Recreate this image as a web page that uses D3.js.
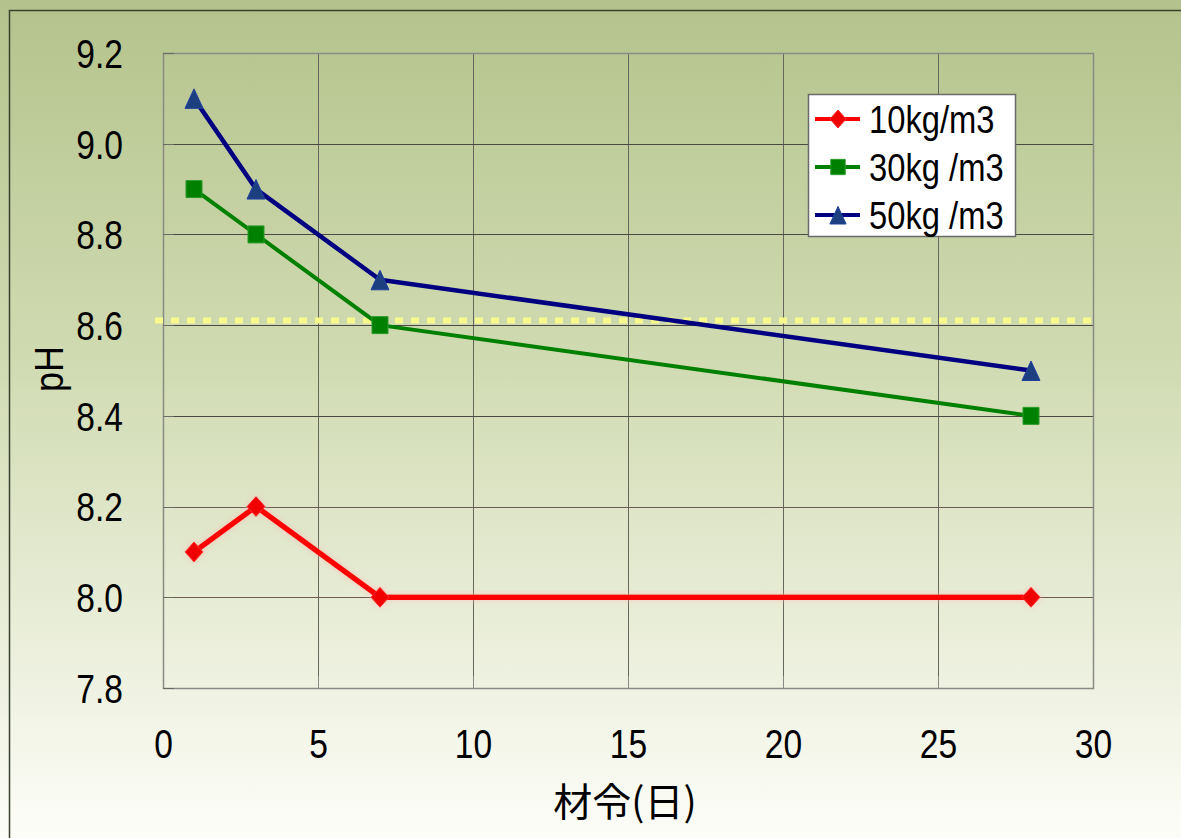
<!DOCTYPE html>
<html>
<head>
<meta charset="utf-8">
<script src="https://cdn.jsdelivr.net/npm/d3@7/dist/d3.min.js"></script>
<style>
  html, body { margin: 0; padding: 0; overflow: hidden; }
  text { font-family: "Liberation Sans", Arial, sans-serif; }
</style>
</head>
<body>
<div id="chart"></div>
<script>
"use strict";
var days = [1, 3, 7, 28];
var ph10 = [8.1, 8.2, 8.0, 8.0];
var ph30 = [8.9, 8.8, 8.6, 8.4];
var ph50 = [9.1, 8.9, 8.7, 8.5];
var seriesNames = ['10kg/m3', '30kg /m3', '50kg /m3'];
var xTicks = [0, 5, 10, 15, 20, 25, 30];
var yTicks = [7.8, 8.0, 8.2, 8.4, 8.6, 8.8, 9.0, 9.2];
var refLine = 8.61;

var width = 1181, height = 838;
var margin = { top: 53, right: 88, bottom: 150, left: 163 };
var pw = width - margin.left - margin.right, ph = height - margin.top - margin.bottom;
var squeeze = 0.84;

var svg = d3.select('#chart')
    .append('svg')
    .attr('width', width)
    .attr('height', height);

var defs = svg.append('defs');
var grad = defs.append('linearGradient')
    .attr('id', 'bg')
    .attr('x1', 0).attr('y1', 0).attr('x2', 0).attr('y2', 1);
grad.append('stop').attr('offset', '0%').attr('stop-color', '#b4c38c');
grad.append('stop').attr('offset', '45%').attr('stop-color', '#d2dcb4');
grad.append('stop').attr('offset', '100%').attr('stop-color', '#fdfdf8');

var glow = defs.append('filter').attr('id', 'glow')
    .attr('x', '-10%').attr('y', '-50%').attr('width', '120%').attr('height', '200%');
glow.append('feGaussianBlur').attr('in', 'SourceAlpha').attr('stdDeviation', 3).attr('result', 'b');
glow.append('feFlood').attr('flood-color', '#ffb0b0').attr('flood-opacity', 0.6);
glow.append('feComposite').attr('in2', 'b').attr('operator', 'in').attr('result', 's');
var gm = glow.append('feMerge');
gm.append('feMergeNode').attr('in', 's');
gm.append('feMergeNode').attr('in', 'SourceGraphic');

svg.append('rect')
    .attr('width', width).attr('height', height)
    .attr('fill', 'url(#bg)');

// outer chart border
svg.append('path')
    .attr('d', 'M9.5,' + height + 'V10.5H' + width)
    .attr('fill', 'none')
    .attr('stroke', '#3a4030')
    .attr('stroke-width', 1.5);

var g = svg.append('g')
    .attr('transform', 'translate(' + margin.left + ',' + margin.top + ')');

var x = d3.scaleLinear().domain([0, 30]).range([0, pw]);
var y = d3.scaleLinear().domain([7.8, 9.2]).range([ph, 0]);

// grid
g.selectAll('.vgrid')
    .data(xTicks.slice(1, -1))
    .enter().append('line')
    .classed('vgrid', true)
    .attr('x1', function (d) { return Math.round(x(d)) + 0.5; })
    .attr('x2', function (d) { return Math.round(x(d)) + 0.5; })
    .attr('y1', 0).attr('y2', ph)
    .attr('stroke', '#66665c').attr('stroke-width', 1);
g.selectAll('.hgrid')
    .data(yTicks.slice(1, -1))
    .enter().append('line')
    .classed('hgrid', true)
    .attr('y1', function (d) { return Math.round(y(d)) + 0.5; })
    .attr('y2', function (d) { return Math.round(y(d)) + 0.5; })
    .attr('x1', 0).attr('x2', pw)
    .attr('stroke', function (d) { return d < 8.3 ? '#6e5a55' : '#4a4a42'; })
    .attr('stroke-width', 1);

// plot frame
g.append('rect')
    .attr('x', 0.5).attr('y', 0.5)
    .attr('width', pw).attr('height', ph)
    .attr('fill', 'none')
    .attr('stroke', '#8a8a84').attr('stroke-width', 1.5);

// inner tick marks
g.selectAll('.ytick')
    .data(yTicks)
    .enter().append('line')
    .attr('x1', 0).attr('x2', 11)
    .attr('y1', function (d) { return Math.round(y(d)) + 0.5; })
    .attr('y2', function (d) { return Math.round(y(d)) + 0.5; })
    .attr('stroke', '#6a6a64');
g.selectAll('.xtick')
    .data(xTicks)
    .enter().append('line')
    .attr('x1', function (d) { return Math.round(x(d)) + 0.5; })
    .attr('x2', function (d) { return Math.round(x(d)) + 0.5; })
    .attr('y1', ph).attr('y2', ph - 12)
    .attr('stroke', '#8a8a84');

// yellow dotted reference line
g.append('line')
    .attr('x1', -8).attr('x2', pw)
    .attr('y1', y(refLine)).attr('y2', y(refLine))
    .attr('stroke', '#f8f98c')
    .attr('stroke-width', 6)
    .attr('stroke-dasharray', '8,8');

// axes
var xAxis = g.append('g')
    .attr('transform', 'translate(0,' + ph + ')')
    .call(d3.axisBottom(x).tickValues(xTicks).tickSize(0).tickPadding(41));
var yAxis = g.append('g')
    .call(d3.axisLeft(y).tickValues(yTicks).tickSize(0).tickPadding(40).tickFormat(d3.format('.1f')));
[xAxis, yAxis].forEach(function (a) {
    a.select('.domain').remove();
    a.selectAll('text')
        .attr('fill', '#000')
        .style('font-size', '40px')
        .style('font-family', '"Liberation Sans", Arial, sans-serif');
});
yAxis.selectAll('text')
    .attr('dy', '0.36em')
    .attr('x', -40 / squeeze)
    .attr('transform', 'scale(' + squeeze + ',1)');
xAxis.selectAll('text')
    .attr('dy', '0.72em')
    .attr('transform', 'scale(' + squeeze + ',1)');

// titles
svg.append('text')
    .text('材令(日)')
    .attr('x', 625).attr('y', 816)
    .attr('text-anchor', 'middle')
    .style('font-family', '"Noto Sans CJK JP", sans-serif')
    .style('font-size', '39px')
    .attr('fill', '#000');
svg.append('text')
    .text('pH')
    .attr('transform', 'translate(63,369) rotate(-90) scale(0.9,1)')
    .attr('text-anchor', 'middle')
    .style('font-size', '40px')
    .attr('fill', '#000');

// marker shapes
function diamond(s) { return 'M0,' + (-10 * s) + 'L' + (9 * s) + ',0L0,' + (10 * s) + 'L' + (-9 * s) + ',0Z'; }
function square(s) { return 'M' + (-8 * s) + ',' + (-8.5 * s) + 'H' + (8 * s) + 'V' + (8.5 * s) + 'H' + (-8 * s) + 'Z'; }
function triangle(s) { return 'M0,' + (-9.5 * s) + 'L' + (9 * s) + ',' + (10 * s) + 'H' + (-9 * s) + 'Z'; }

// series
var series = [
    { name: seriesNames[0], values: ph10, color: '#ff0000', fill: '#f00000', stroke: '#ff3030', shape: diamond, width: 5.5, filter: 'url(#glow)' },
    { name: seriesNames[1], values: ph30, color: '#008000', fill: '#008000', stroke: '#2a9a2a', shape: square, width: 4, filter: null },
    { name: seriesNames[2], values: ph50, color: '#000080', fill: '#1c3f80', stroke: '#2040a0', shape: triangle, width: 4.5, filter: null }
];
var line = d3.line()
    .x(function (d) { return x(d[0]); })
    .y(function (d) { return y(d[1]); });

series.forEach(function (s) {
    var pts = days.map(function (d, i) { return [d, s.values[i]]; });
    var sg = g.append('g').attr('filter', s.filter);
    sg.append('path')
        .datum(pts)
        .attr('d', line)
        .attr('fill', 'none')
        .attr('stroke', s.color)
        .attr('stroke-width', s.width)
        .attr('stroke-linejoin', 'round');
    sg.selectAll('.pt')
        .data(pts)
        .enter().append('path')
        .attr('transform', function (d) { return 'translate(' + x(d[0]) + ',' + y(d[1]) + ')'; })
        .attr('d', s.shape(1))
        .attr('fill', s.fill)
        .attr('stroke', s.stroke)
        .attr('stroke-width', 1);
});

// legend
var lg = svg.append('g').attr('transform', 'translate(808,94)');
lg.append('rect')
    .attr('x', 0.5).attr('y', 0.5)
    .attr('width', 207).attr('height', 142)
    .attr('fill', '#ffffff')
    .attr('stroke', '#6a6a6a').attr('stroke-width', 1.5);
var rows = lg.selectAll('.lrow')
    .data(series)
    .enter().append('g')
    .classed('lrow', true)
    .attr('transform', function (d, i) { return 'translate(0,' + (25 + i * 48) + ')'; });
rows.append('line')
    .attr('x1', 7).attr('x2', 52)
    .attr('stroke', function (d) { return d.color; })
    .attr('stroke-width', 4);
rows.append('path')
    .attr('transform', 'translate(30,0)')
    .attr('d', function (d) { return d.shape(0.9); })
    .attr('fill', function (d) { return d.fill; })
    .attr('stroke', function (d) { return d.stroke; })
    .attr('stroke-width', 1);
rows.append('text')
    .text(function (d) { return d.name; })
    .attr('x', 61 / squeeze)
    .attr('dy', '0.36em')
    .attr('transform', 'scale(' + squeeze + ',1)')
    .style('font-size', '39px')
    .attr('fill', '#000');
</script>
</body>
</html>
